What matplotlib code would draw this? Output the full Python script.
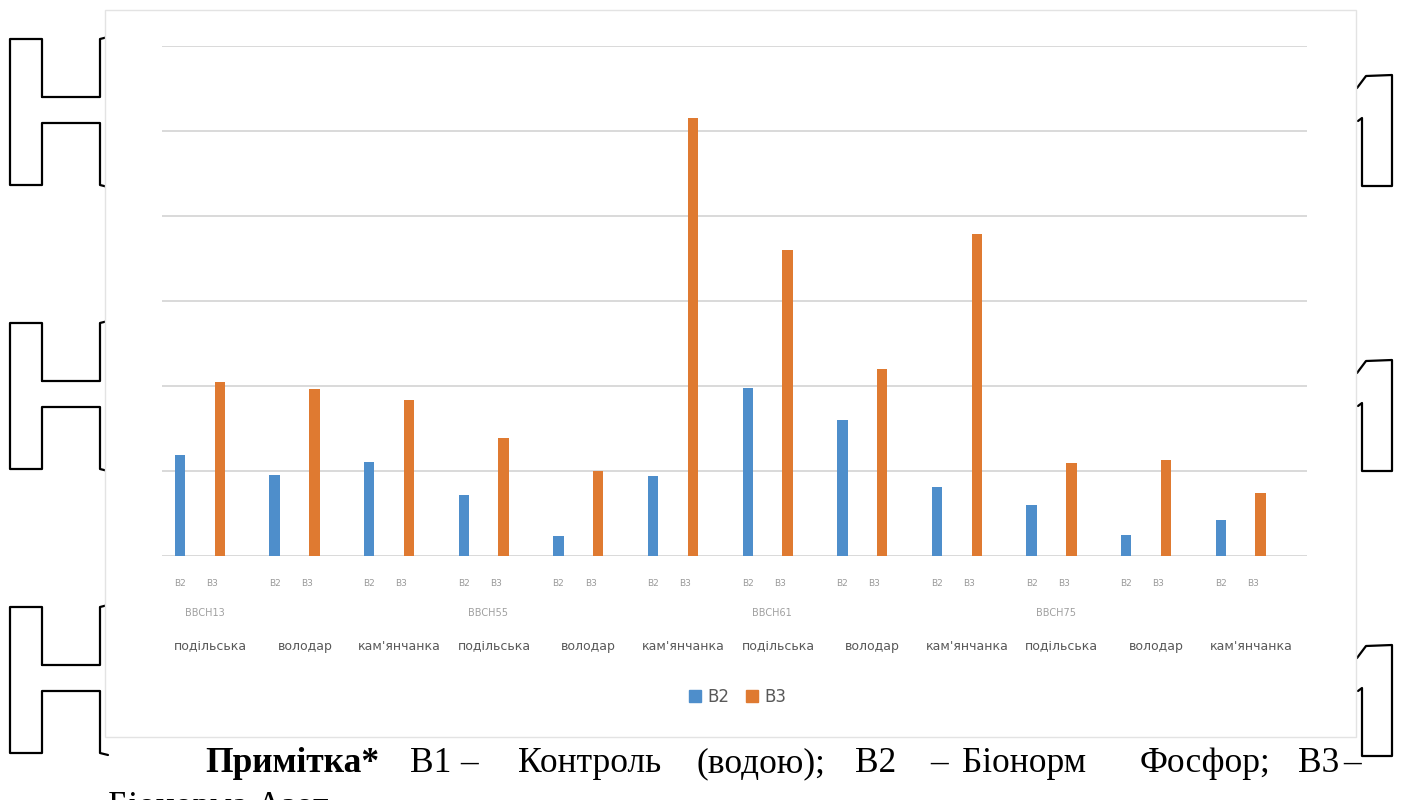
import matplotlib
matplotlib.use("Agg")
import matplotlib.pyplot as plt
from matplotlib.lines import Line2D
from matplotlib.patches import Rectangle, Patch
import numpy as np

# Data: growth stage, variety and the two treatments
stages = ["BBCH13", "BBCH55", "BBCH61", "BBCH75"]
varieties = ["подільська", "володар", "кам'янчанка"]
series_names = ["В2", "В3"]
b2_values = [1.19, 0.95, 1.11, 0.72, 0.24, 0.94, 1.98, 1.60, 0.81, 0.60, 0.25, 0.42]
b3_values = [2.05, 1.96, 1.84, 1.39, 1.00, 5.15, 3.60, 2.20, 3.79, 1.10, 1.13, 0.74]

caption_words = ["Примітка*", "В1", "–", "Контроль", "(водою);", "В2", "–",
                 "Біонорм", "Фосфор;", "В3", "–"]
caption_line2 = "Біонорма Азот"

BLUE = "#4E8ECB"
ORANGE = "#DF7A31"
GRID = "#d9d9d9"
LABEL = "#595959"

W, H = 1402, 800
fig = plt.figure(figsize=(W / 100, H / 100), dpi=100)
fig.patch.set_facecolor("white")


def fx(x):
    return x / W


def fy(y):
    return 1 - y / H


# Outlined letters of the page sitting behind the chart frame
def draw_path(pts, lw=1.6):
    xs = [fx(p[0]) for p in pts]
    ys = [fy(p[1]) for p in pts]
    fig.add_artist(Line2D(xs, ys, transform=fig.transFigure, color="black",
                          lw=lw, zorder=0.2, solid_joinstyle="round",
                          solid_capstyle="round"))


for top in (39, 323, 607):
    draw_path([(42, top + 58), (42, top), (10, top), (10, top + 146),
               (42, top + 146), (42, top + 84), (100, top + 84),
               (100, top + 146), (108, top + 148)])
    draw_path([(42, top + 58), (100, top + 58), (100, top), (108, top - 2)])

for top in (75, 360, 645):
    draw_path([(1357, top + 13), (1366, top + 1), (1392, top),
               (1392, top + 111), (1362, top + 111), (1362, top + 43),
               (1358, top + 46)])

# Chart frame
fig.add_artist(Rectangle((fx(105), fy(737)), fx(1356) - fx(105), fy(10) - fy(737),
                         transform=fig.transFigure, facecolor="white",
                         edgecolor="#e3e3e3", lw=1.0, zorder=0.5))

ax = fig.add_axes([fx(162), fy(556), fx(1307) - fx(162), fy(46) - fy(556)])
ax.set_zorder(1)
ax.patch.set_alpha(0)

n = len(b2_values)
x = np.arange(n)
off = 0.21
bw = 0.11
ax.bar(x - off, b2_values, width=bw, color=BLUE, zorder=3, label=series_names[0])
ax.bar(x + off, b3_values, width=bw, color=ORANGE, zorder=3, label=series_names[1])

ax.set_xlim(-0.4, 11.7)
ax.set_ylim(0, 6)
ax.set_yticks(np.arange(0, 7, 1))
ax.yaxis.grid(True, color=GRID, lw=1.4, zorder=0)
ax.set_axisbelow(True)
ax.set_xticks([])
ax.tick_params(axis="y", length=0, labelleft=False)
for s in ax.spines.values():
    s.set_visible(False)

tr = ax.get_xaxis_transform()
for i in range(n):
    ax.text(i - off, -0.053, series_names[0], transform=tr, ha="center",
            va="center", fontsize=6.5, color="#9a9a9a")
    ax.text(i + 0.13, -0.053, series_names[1], transform=tr, ha="center",
            va="center", fontsize=6.5, color="#9a9a9a")
    ax.text(i + 0.11, -0.178, varieties[i % len(varieties)], transform=tr,
            ha="center", va="center", fontsize=9, color=LABEL)
for k, st in enumerate(stages):
    ax.text(k * len(varieties) + 0.05, -0.112, st, transform=tr, ha="center",
            va="center", fontsize=7, color="#a0a0a0")

handles = [Patch(color=BLUE, label=series_names[0]),
           Patch(color=ORANGE, label=series_names[1])]
leg = fig.legend(handles=handles, loc="center", bbox_to_anchor=(fx(738), fy(697)),
                 ncol=2, frameon=False, fontsize=12, handlelength=0.7,
                 handleheight=0.7, handletextpad=0.4, columnspacing=1.0)
for t in leg.get_texts():
    t.set_color(LABEL)

# Note under the chart
cap_x = [205, 410, 460, 518, 697, 855, 930, 962, 1140, 1298, 1343]
for word, xp in zip(caption_words, cap_x):
    fig.text(fx(xp), fy(772), word, family="Liberation Serif", fontsize=25.5,
             fontweight="bold" if word.startswith("Примітка") else "normal",
             ha="left", va="baseline", color="black")
fig.text(fx(108), fy(816), caption_line2, family="Liberation Serif", fontsize=25.5,
         ha="left", va="baseline", color="black")

fig.savefig("out.png", dpi=100, facecolor="white")
